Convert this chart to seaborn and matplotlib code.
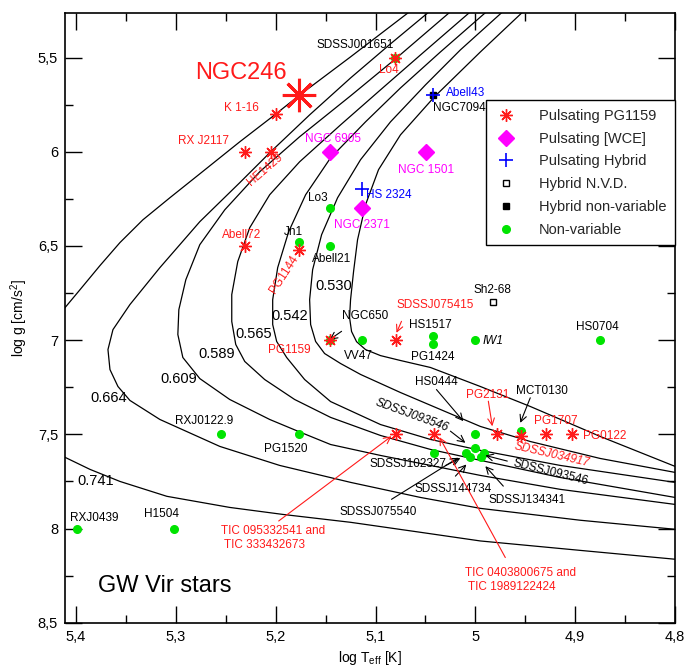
import matplotlib
matplotlib.use('Agg')
import matplotlib.pyplot as plt
from matplotlib.lines import Line2D
from matplotlib.ticker import MultipleLocator, FuncFormatter
import seaborn as sns

# Evolutionary tracks (log Teff, log g)
trk_741_T = [5.057, 5.125, 5.177, 5.201, 5.236, 5.276, 5.306, 5.333, 5.356, 5.376, 5.396, 5.416, 5.436, 5.448,
             5.441, 5.426, 5.411, 5.386, 5.356, 5.309, 5.246, 5.193, 5.125, 5.055, 4.995, 4.895, 4.800]
trk_741_g = [5.220, 5.496, 5.703, 5.804, 5.947, 6.117, 6.244, 6.361, 6.482, 6.604, 6.732, 6.859, 7.023, 7.262,
             7.474, 7.569, 7.622, 7.686, 7.750, 7.829, 7.888, 7.925, 7.967, 8.020, 8.066, 8.116, 8.163]
trk_664_T = [5.038, 5.085, 5.125, 5.166, 5.205, 5.236, 5.276, 5.316, 5.346, 5.363, 5.368, 5.366, 5.358, 5.346,
             5.316, 5.256, 5.196, 5.125, 5.055, 4.995, 4.895, 4.800]
trk_664_g = [5.220, 5.427, 5.608, 5.804, 6.000, 6.164, 6.371, 6.615, 6.811, 6.944, 7.050, 7.156, 7.246, 7.320,
             7.421, 7.564, 7.665, 7.755, 7.835, 7.893, 7.956, 8.004]
trk_609_T = [5.017, 5.079, 5.125, 5.176, 5.216, 5.251, 5.276, 5.290, 5.297, 5.298, 5.293, 5.276, 5.246, 5.206,
             5.177, 5.145, 5.095, 5.045, 4.995, 4.915, 4.800]
trk_609_g = [5.220, 5.502, 5.703, 5.920, 6.106, 6.308, 6.493, 6.679, 6.838, 6.970, 7.092, 7.204, 7.315, 7.421,
             7.485, 7.554, 7.612, 7.665, 7.718, 7.792, 7.872]
trk_589_T = [4.997, 5.055, 5.095, 5.135, 5.176, 5.206, 5.226, 5.238, 5.244, 5.244, 5.240, 5.231, 5.211, 5.181,
             5.145, 5.095, 5.045, 4.995, 4.915, 4.800]
trk_589_g = [5.220, 5.486, 5.671, 5.857, 6.053, 6.228, 6.403, 6.583, 6.758, 6.901, 7.023, 7.113, 7.209, 7.315,
             7.410, 7.506, 7.580, 7.638, 7.729, 7.835]
trk_565_T = [4.981, 5.035, 5.075, 5.110, 5.145, 5.170, 5.187, 5.198, 5.203, 5.203, 5.199, 5.189, 5.171, 5.145,
             5.095, 5.045, 4.995, 4.915, 4.800]
trk_565_g = [5.220, 5.470, 5.661, 5.841, 6.032, 6.228, 6.424, 6.615, 6.785, 6.917, 7.007, 7.092, 7.209, 7.326,
             7.448, 7.527, 7.585, 7.665, 7.755]
trk_542_T = [4.965, 5.015, 5.050, 5.085, 5.115, 5.138, 5.154, 5.163, 5.166, 5.165, 5.160, 5.151, 5.135, 5.115,
             5.075, 5.035, 4.995, 4.945, 4.875, 4.800]
trk_542_g = [5.220, 5.459, 5.645, 5.841, 6.042, 6.244, 6.440, 6.626, 6.785, 6.917, 7.007, 7.071, 7.124, 7.182,
             7.278, 7.368, 7.458, 7.538, 7.628, 7.702]
trk_530_T = [4.945, 4.995, 5.041, 5.075, 5.097, 5.110, 5.118, 5.122, 5.125, 5.126, 5.124, 5.119, 5.110, 5.095,
             5.075, 5.045, 4.995, 4.945, 4.875, 4.800]
trk_530_g = [5.220, 5.470, 5.708, 5.910, 6.095, 6.281, 6.467, 6.636, 6.785, 6.880, 6.954, 7.008, 7.050, 7.082,
             7.108, 7.145, 7.246, 7.352, 7.511, 7.670]

tracks = [
    (trk_741_T, trk_741_g), (trk_664_T, trk_664_g), (trk_609_T, trk_609_g), (trk_589_T, trk_589_g),
    (trk_565_T, trk_565_g), (trk_542_T, trk_542_g), (trk_530_T, trk_530_g),
]
track_masses = ['0.741', '0.664', '0.609', '0.589', '0.565', '0.542', '0.530']

# Stars
ngc246_T, ngc246_g = [5.177], [5.70]
puls_T = [5.200, 5.231, 5.205, 5.080, 5.231, 5.177, 5.146, 5.079, 5.079, 5.041, 4.978, 4.954, 4.929, 4.903]
puls_g = [5.80, 6.00, 6.00, 5.50, 6.50, 6.52, 7.00, 7.00, 7.50, 7.50, 7.50, 7.51, 7.50, 7.50]
wce_T = [5.146, 5.049, 5.114]
wce_g = [6.00, 6.00, 6.30]
hyb_T = [5.042, 5.114]
hyb_g = [5.70, 6.20]
nvd_T, nvd_g = [4.982], [6.80]
hnv_T, hnv_g = [5.042], [5.70]
nonvar_T = [5.080, 5.146, 5.177, 5.146, 5.146, 5.114, 5.042, 5.042, 5.000, 4.875, 5.255, 5.177, 5.399, 5.302,
            4.954, 5.000, 5.000, 5.009, 5.005, 4.994, 4.991, 5.041]
nonvar_g = [5.50, 6.30, 6.48, 6.50, 7.00, 7.00, 6.98, 7.02, 7.00, 7.00, 7.50, 7.50, 8.00, 8.00,
            7.48, 7.50, 7.57, 7.60, 7.62, 7.62, 7.60, 7.60]

RED = '#ff1a1a'
MAG = '#ff00ff'
BLUE = '#0000ff'
GREEN = '#00e400'
ASTER = (8, 2, 0)

sns.set_theme(style='ticks')
plt.rcParams['font.family'] = ['Liberation Sans', 'DejaVu Sans']
plt.rcParams['mathtext.fontset'] = 'custom'
plt.rcParams['mathtext.rm'] = 'Liberation Sans'
plt.rcParams['mathtext.it'] = 'Liberation Sans:italic'

fig = plt.figure(figsize=(6.86, 6.69), dpi=100)
ax = fig.add_axes([0.0948, 0.0692, 0.8892, 0.9114])

for T, g in tracks:
    sns.lineplot(x=T, y=g, sort=False, estimator=None, color='black', linewidth=0.9, ax=ax, zorder=1)

# track labels
track_lab_pos = [(5.380, 7.748), (5.367, 7.306), (5.297, 7.205), (5.259, 7.073),
                 (5.222, 6.965), (5.186, 6.870), (5.142, 6.710)]
for m, (x, y) in zip(track_masses, track_lab_pos):
    ax.text(x, y, m, fontsize=10.5, ha='center', va='center', color='black')

# markers
ax.plot(nonvar_T, nonvar_g, 'o', color=GREEN, ms=5.5, mec=GREEN, ls='none', zorder=3)
ax.plot(puls_T, puls_g, marker=ASTER, color=RED, ms=9, mew=1.0, ls='none', zorder=4)
ax.plot(ngc246_T, ngc246_g, marker=ASTER, color=RED, ms=24, mew=2.2, ls='none', zorder=4)
ax.plot(wce_T, wce_g, 'D', color=MAG, ms=8.5, ls='none', zorder=4)
ax.plot(hnv_T, hnv_g, 's', color='black', ms=3.8, ls='none', zorder=4)
ax.plot(hyb_T, hyb_g, '+', color=BLUE, ms=10, mew=1.2, ls='none', zorder=5)
ax.plot(nvd_T, nvd_g, 's', mfc='white', mec='black', ms=4.2, mew=1.0, ls='none', zorder=4)

fs = 8.5
def lab(s, x, y, c='black', **kw):
    kw.setdefault('ha', 'center')
    ax.text(x, y, s, color=c, fontsize=kw.pop('size', fs), va='center', rotation_mode='anchor', **kw)

lab('NGC246', 5.235, 5.583, RED, size=17)
lab('K 1-16', 5.234, 5.765, RED)
lab('RX J2117', 5.272, 5.945, RED)
lab('HE1429', 5.211, 6.095, RED, rotation=41)
lab('SDSSJ001651', 5.120, 5.433)
lab('Lo4', 5.087, 5.565, RED)
lab('Abell43', 5.010, 5.686, BLUE)
lab('NGC7094', 5.016, 5.765)
lab('NGC 6905', 5.143, 5.931, MAG)
lab('NGC 1501', 5.049, 6.099, MAG)
lab('HS 2324', 5.087, 6.228, BLUE)
lab('NGC 2371', 5.114, 6.387, MAG)
lab('Lo3', 5.158, 6.245)
lab('Abell72', 5.234, 6.440, RED)
lab('Jn1', 5.182, 6.426)
lab('PG1144', 5.192, 6.652, RED, rotation=57)
lab('Abell21', 5.144, 6.567)
lab('PG1159', 5.186, 7.050, RED)
lab('VV47', 5.117, 7.085)
lab('NGC650', 5.110, 6.873)
lab('SDSSJ075415', 5.040, 6.811, RED)
lab('HS1517', 5.045, 6.921)
lab('PG1424', 5.043, 7.091)
lab('IW1', 4.993, 7.006, ha='left', style='italic')
lab('HS0704', 4.878, 6.930)
lab('Sh2-68', 4.983, 6.732)
lab('RXJ0122.9', 5.272, 7.430)
lab('PG1520', 5.190, 7.580)
lab('RXJ0439', 5.382, 7.946)
lab('H1504', 5.314, 7.921)
lab('HS0444', 5.039, 7.221)
lab('PG2131', 4.988, 7.292, RED)
lab('MCT0130', 4.933, 7.271)
lab('PG1707', 4.919, 7.430, RED)
lab('PG0122', 4.892, 7.510, RED, ha='left')
lab('SDSSJ034917', 4.923, 7.607, RED, rotation=-13, style='italic')
lab('SDSSJ093546', 5.064, 7.400, rotation=-20, style='italic')
lab('SDSSJ093546', 4.925, 7.704, rotation=-14)
lab('SDSSJ102327', 5.067, 7.660)
lab('SDSSJ144734', 5.022, 7.792)
lab('SDSSJ134341', 4.948, 7.849)
lab('SDSSJ075540', 5.097, 7.913)
lab('TIC 095332541 and\n TIC 333432673', 5.255, 8.052, RED, ha='left', linespacing=1.25)
lab('TIC 0403800675 and\n TIC 1989122424', 5.010, 8.272, RED, ha='left', linespacing=1.25)
ax.text(5.311, 8.305, 'GW Vir stars', fontsize=17, ha='center', va='center', color='black')

def arrow(tail, head, c='black'):
    ax.annotate('', xy=head, xytext=tail,
                arrowprops=dict(arrowstyle='->', color=c, lw=0.8, shrinkA=0, shrinkB=0))

arrow((5.134, 6.953), (5.146, 6.997))
arrow((5.074, 6.900), (5.079, 6.961), RED)
arrow((5.039, 7.262), (5.012, 7.430))
arrow((4.987, 7.324), (4.983, 7.457), RED)
arrow((4.945, 7.306), (4.955, 7.439))
arrow((5.025, 7.483), (5.010, 7.545))
arrow((4.968, 7.642), (4.990, 7.612))
arrow((5.030, 7.666), (5.015, 7.626))
arrow((5.020, 7.722), (5.009, 7.660))
arrow((4.972, 7.775), (4.990, 7.669))
arrow((5.084, 7.845), (5.017, 7.624))
arrow((5.197, 7.960), (5.084, 7.510), RED)
arrow((4.970, 8.154), (5.036, 7.515), RED)

ax.set_xlim(5.411, 4.8)
ax.set_ylim(8.5, 5.263)
ax.xaxis.set_major_locator(MultipleLocator(0.1))
ax.xaxis.set_minor_locator(MultipleLocator(0.05))
ax.yaxis.set_major_locator(MultipleLocator(0.5))
ax.yaxis.set_minor_locator(MultipleLocator(0.25))
comma = FuncFormatter(lambda v, p: f"{round(v, 2):g}".replace('.', ','))
ax.xaxis.set_major_formatter(comma)
ax.yaxis.set_major_formatter(comma)
ax.tick_params(which='both', direction='in', top=True, right=True, colors='black', width=1.0, labelsize=10.5)
ax.tick_params(which='major', length=12, pad=5)
ax.tick_params(which='minor', length=6)
for sp in ax.spines.values():
    sp.set_color('black')
    sp.set_linewidth(1.2)
    sp.set_visible(True)

ax.set_xlabel('log T$_\\mathrm{eff}$ [K]', fontsize=10, color='black', labelpad=4)
ax.set_ylabel('log g [cm/s$^\\mathrm{2}$]', fontsize=10, color='black', labelpad=6)

handles = [
    Line2D([], [], marker=ASTER, color=RED, ms=9, mew=1.0, ls='none'),
    Line2D([], [], marker='D', color=MAG, ms=8.5, ls='none'),
    Line2D([], [], marker='+', color=BLUE, ms=10, mew=1.2, ls='none'),
    Line2D([], [], marker='s', mfc='white', mec='black', ms=4.2, mew=1.0, ls='none'),
    Line2D([], [], marker='s', color='black', ms=3.8, ls='none'),
    Line2D([], [], marker='o', color=GREEN, ms=5.5, ls='none'),
]
names = ['Pulsating PG1159', 'Pulsating [WCE]', 'Pulsating Hybrid', 'Hybrid N.V.D.',
         'Hybrid non-variable', 'Non-variable']
leg = ax.legend(handles, names, loc='upper right', bbox_to_anchor=(1.0, 0.857), borderaxespad=0,
                fontsize=10.5, frameon=True, fancybox=False, framealpha=1, edgecolor='black',
                handlelength=1.5, handletextpad=1.5, labelspacing=0.6, borderpad=0.6)
leg.get_frame().set_linewidth(1.0)

fig.savefig('out.png', dpi=100)
